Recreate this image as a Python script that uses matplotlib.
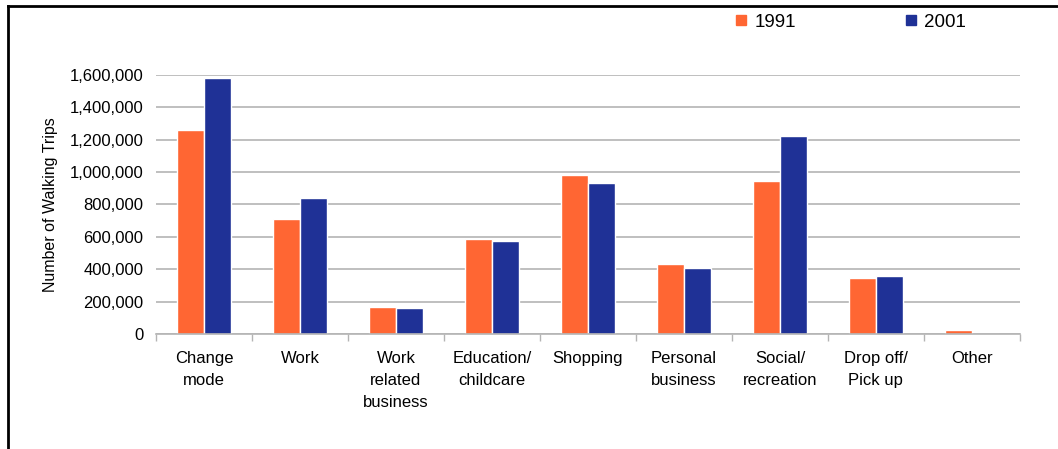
import matplotlib.pyplot as plt
import numpy as np
from matplotlib.lines import Line2D
from matplotlib.patches import Patch
from matplotlib.ticker import FuncFormatter, FixedLocator

plt.rcParams['font.family'] = ['Liberation Sans', 'DejaVu Sans']

# walking trips by purpose
categories = ["Change\nmode", "Work", "Work\nrelated\nbusiness", "Education/\nchildcare",
              "Shopping", "Personal\nbusiness", "Social/\nrecreation", "Drop off/\nPick up", "Other"]
trips_1991 = [1262000, 712000, 165000, 587000, 985000, 435000, 948000, 348000, 24000]
trips_2001 = [1582000, 838000, 160000, 575000, 935000, 405000, 1222000, 357000, 0]
yticks = [0, 200000, 400000, 600000, 800000, 1000000, 1200000, 1400000, 1600000]

orange = "#ff6633"
blue = "#1f3196"
grey = "#b4b4b4"

fig = plt.figure(figsize=(10.58, 4.49), dpi=100)
ax = fig.add_axes([0.1474, 0.2561, 0.8166, 0.5769])

x = np.arange(len(categories))
w = 0.285
ax.bar(x - w / 2, trips_1991, w, color=orange, edgecolor="white", linewidth=1, zorder=3)
ax.bar(x + w / 2, trips_2001, w, color=blue, edgecolor="white", linewidth=1, zorder=3)

ax.set_xlim(-0.5, len(categories) - 0.5)
ax.set_ylim(0, 1600000)
ax.set_yticks(yticks)
ax.yaxis.set_major_formatter(FuncFormatter(lambda v, p: f"{int(v):,}"))
ax.tick_params(axis="y", length=0, pad=9, labelsize=12)
ax.grid(axis="y", color=grey, linewidth=1.2, zorder=0)

ax.set_xticks(x)
ax.set_xticklabels(categories, fontsize=12, linespacing=1.6)
ax.tick_params(axis="x", which="major", length=0, pad=12)
ax.xaxis.set_minor_locator(FixedLocator(np.arange(-0.5, len(categories), 1.0)))
ax.tick_params(axis="x", which="minor", length=5, color=grey, width=1)

for s in ["top", "right", "left"]:
    ax.spines[s].set_visible(False)
ax.spines["bottom"].set_color(grey)
ax.spines["bottom"].set_linewidth(1.2)
ax.spines["bottom"].set_zorder(4)

ax.set_ylabel("Number of Walking Trips", fontsize=11.5, labelpad=8)

handles = [Patch(color=orange, label="1991"), Patch(color=blue, label="2001")]
fig.legend(handles=handles, ncol=2, frameon=False, fontsize=13.5,
           loc="center left", bbox_to_anchor=(0.680, 0.951),
           handlelength=0.5, handleheight=0.5, handletextpad=0.45, columnspacing=5.9)

# outer frame (top and left edges)
fig.add_artist(Line2D([7.5 / 1058, 1.0], [1 - 5.5 / 449] * 2, color="black", linewidth=2,
                      transform=fig.transFigure))
fig.add_artist(Line2D([7.5 / 1058] * 2, [0.0, 1 - 5.5 / 449], color="black", linewidth=2,
                      transform=fig.transFigure))

fig.savefig("out.png", dpi=100, facecolor="white")
